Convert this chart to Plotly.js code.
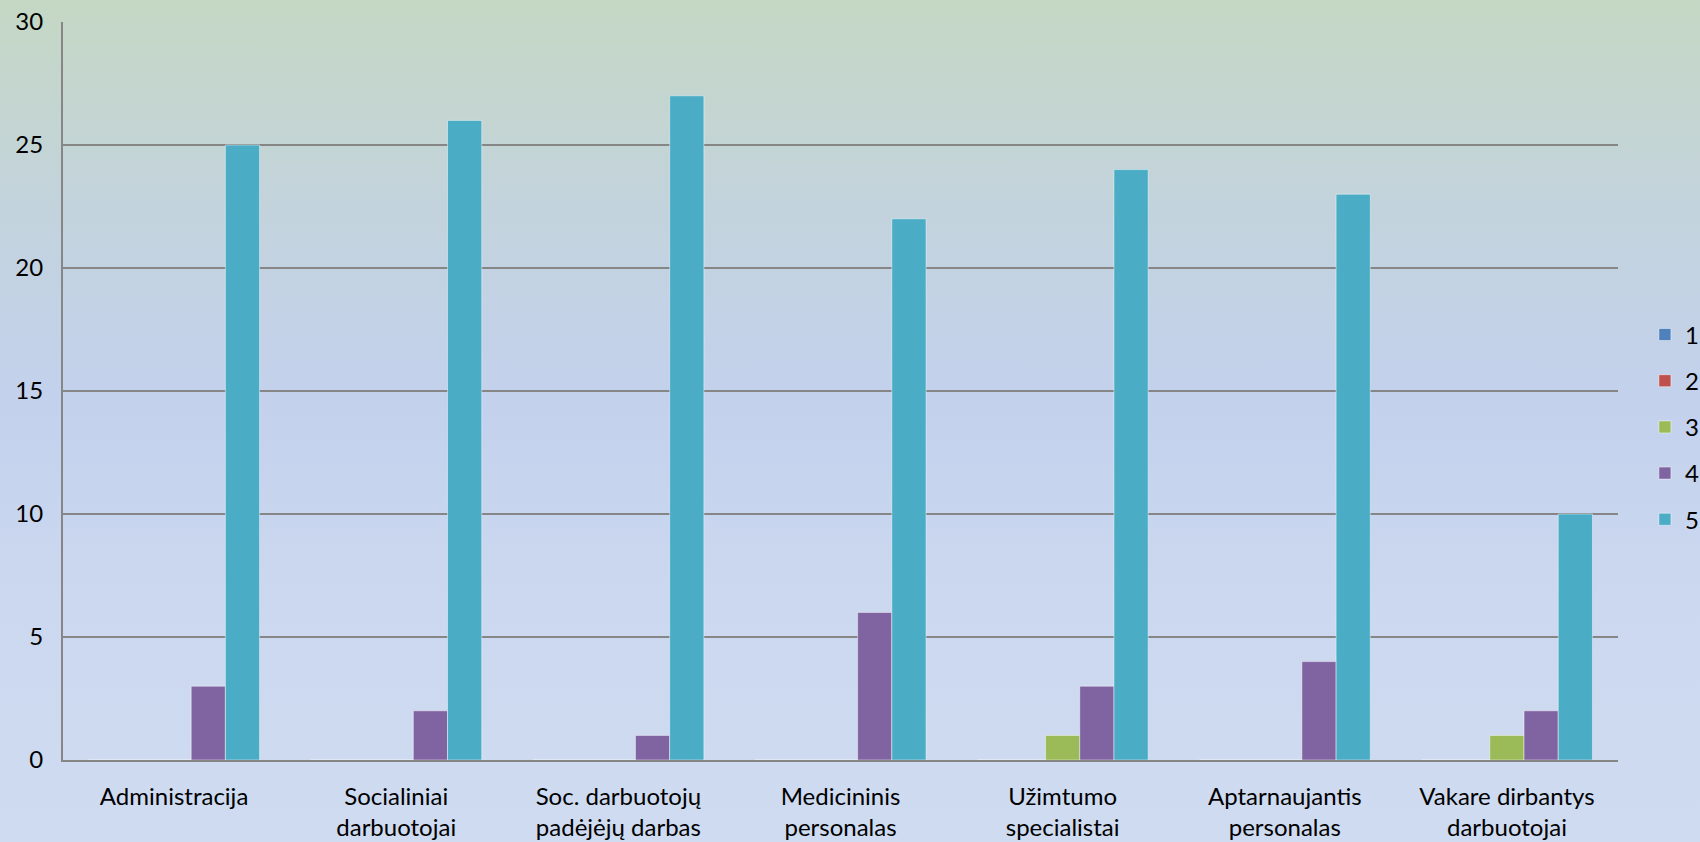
<!DOCTYPE html>
<html>
<head>
<meta charset="utf-8">
<script src="https://cdn.plot.ly/plotly-3.0.1.min.js"></script>
<style>
html,body{margin:0;padding:0;}
#chart{width:1700px;height:842px;background:linear-gradient(to bottom,#c5d8c4 0%,#c3d3dc 24%,#c3d1ed 48%,#ccd8ef 71%,#cfdbf0 100%);}
</style>
</head>
<body>
<div id="chart"></div>
<script>
const categories = [
  "Administracija",
  "Socialiniai<br>darbuotojai",
  "Soc. darbuotojų<br>padėjėjų darbas",
  "Medicininis<br>personalas",
  "Užimtumo<br>specialistai",
  "Aptarnaujantis<br>personalas",
  "Vakare dirbantys<br>darbuotojai"
];
const seriesNames = ["1", "2", "3", "4", "5"];
const s1 = [0, 0, 0, 0, 0, 0, 0];
const s2 = [0, 0, 0, 0, 0, 0, 0];
const s3 = [0, 0, 0, 0, 1, 0, 1];
const s4 = [3, 2, 1, 6, 3, 4, 2];
const s5 = [25, 26, 27, 22, 24, 23, 10];
const colors = ["#4f81bd", "#c0504d", "#9bbb59", "#8064a2", "#4bacc6"];
const yTicks = [0, 5, 10, 15, 20, 25, 30];

const allSeries = [s1, s2, s3, s4, s5];
const traces = allSeries.map((vals, i) => ({
  type: "bar",
  name: seriesNames[i],
  legendgroup: "g" + i,
  x: categories,
  y: vals,
  marker: {color: colors[i], line: {color: "rgba(255,255,255,0.45)", width: 1}},
  hoverinfo: "x+y+name"
}));

const font = {family: "Lato, 'Open Sans', sans-serif", size: 24, color: "#000"};

const layout = {
  width: 1700,
  height: 842,
  paper_bgcolor: "rgba(0,0,0,0)",
  plot_bgcolor: "rgba(0,0,0,0)",
  margin: {l: 63, r: 82, t: 22, b: 82, pad: 0},
  font: font,
  barmode: "group",
  bargap: 0.23,
  bargroupgap: 0,
  showlegend: true,
  legend: {
    xref: "container", yref: "container",
    x: 0.9676, xanchor: "left",
    y: 0.493, yanchor: "middle",
    font: font,
    bgcolor: "rgba(0,0,0,0)",
    traceorder: "grouped",
    tracegroupgap: 12,
    itemwidth: 30
  },
  xaxis: {
    type: "category",
    showline: true, linecolor: "#868686", linewidth: 2,
    showgrid: false, ticks: "",
    tickfont: font,
    ticklabelstandoff: 14,
    fixedrange: true
  },
  yaxis: {
    range: [0, 30],
    tickvals: yTicks,
    ticktext: yTicks.map(String),
    showline: true, linecolor: "#868686", linewidth: 2,
    showgrid: true, gridcolor: "#868686", gridwidth: 2,
    zeroline: false,
    ticks: "",
    tickfont: font,
    ticklabelstandoff: 13,
    fixedrange: true
  }
};

Plotly.newPlot("chart", traces, layout, {displayModeBar: false, staticPlot: true});
</script>
</body>
</html>
